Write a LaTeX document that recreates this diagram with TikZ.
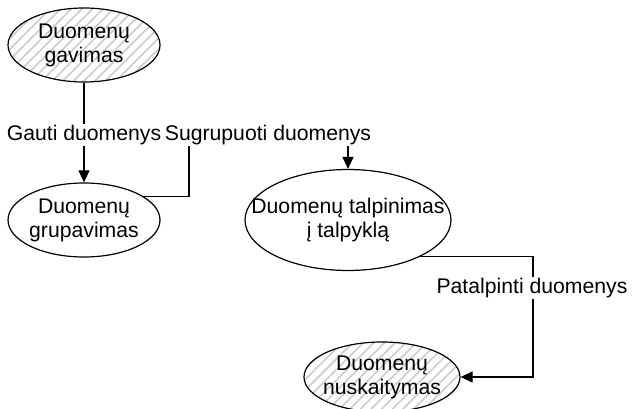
\documentclass[tikz,border=0pt]{standalone}
\usepackage{fontspec}
\setmainfont{Liberation Sans}
\usetikzlibrary{arrows.meta,patterns.meta,shapes.geometric}
\begin{document}
\begin{tikzpicture}[x=1pt,y=-1pt,
  proc/.style={ellipse,draw,line width=1.2pt,inner sep=0pt},
  hatched/.style={pattern={Lines[angle=45,distance=7.5pt,line width=1.6pt]},pattern color=black!20},
  txt/.style={align=center,font=\fontsize{21.2}{24}\selectfont,inner sep=0pt},
  lbl/.style={fill=white,font=\fontsize{21.2}{24}\selectfont,inner sep=1pt},
  flow/.style={line width=1.2pt,-{Triangle[length=12pt,width=11pt]}}]
\useasboundingbox (0,0) rectangle (633,409);
\fill[white] (0,0) rectangle (633,409);

% processes
\node[proc,hatched,minimum width=152pt,minimum height=74pt] (e1) at (84,45) {};
\node[txt] (t1) at (e1) {Duomenų\\gavimas};
\node[proc,minimum width=152pt,minimum height=74pt] (e2) at (84,220) {};
\node[txt] (t2) at (e2) {Duomenų\\grupavimas};
\node[proc,minimum width=206pt,minimum height=101pt] (e3) at (348,220) {};
\node[txt] (t3) at (e3) {Duomenų talpinimas\\į talpyklą};
\node[proc,hatched,minimum width=156pt,minimum height=70pt] (e4) at (382,377) {};
\node[txt] (t4) at (e4) {Duomenų\\nuskaitymas};

% bend points of the connectors
\coordinate (c1) at (189,135);
\coordinate (c2) at (533,320);

% data flows
\draw[flow] (e1.south) -- (e2.north);
\node[lbl] (l1) at (84,135) {Gauti duomenys};

\draw[flow] (e2.22) -| (c1) -| (e3.north);
\node[lbl] (l2) at (268,135) {Sugrupuoti duomenys};

\draw[flow] (e3.-27) -| (c2) |- (e4.east);
\node[lbl] (l3) at (532,288) {Patalpinti duomenys};
\end{tikzpicture}
\end{document}
